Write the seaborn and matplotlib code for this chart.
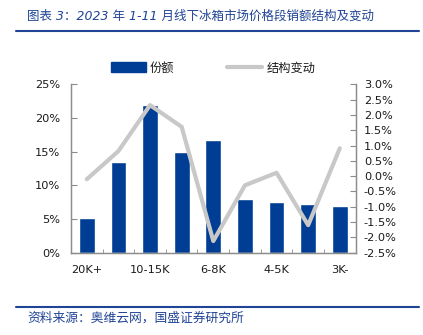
import numpy as np
import pandas as pd
import matplotlib
matplotlib.use("Agg")
import matplotlib.pyplot as plt
from matplotlib.patches import Patch
from matplotlib.lines import Line2D
import seaborn as sns

# Price bands (high to low), sales share and change in share
categories = ["20K+", "15-20K", "10-15K", "8-10K", "6-8K", "5-6K", "4-5K", "3-4K", "3K-"]
share = [5.1, 13.4, 21.9, 15.0, 16.8, 7.9, 7.5, 7.2, 7.0]
change = [-0.10, 0.82, 2.32, 1.61, -2.12, -0.30, 0.11, -1.60, 0.91]
left_ticks = [0, 5, 10, 15, 20, 25]
right_ticks = [-2.5, -2.0, -1.5, -1.0, -0.5, 0.0, 0.5, 1.0, 1.5, 2.0, 2.5, 3.0]

sns.set_style("white")
plt.rcParams["font.family"] = ["DejaVu Sans", "Noto Sans CJK SC"]

BLUE = "#003d94"
GREY = "#c8c8c8"
TEXT = "#1a1a1a"
SPINE = "#8c8c8c"
NAVY = "#1f4395"
TICK_FS = 8.2

df = pd.DataFrame({"band": categories, "share": share, "change": change,
                   "pos": np.arange(len(categories))})

fig = plt.figure(figsize=(4.23, 3.35), dpi=100)
ax = fig.add_axes([71 / 423, 1 - 252.7 / 335, 284.6 / 423, 168.4 / 335])

sns.barplot(data=df, x="band", y="share", color=BLUE, width=0.5,
            saturation=1, ax=ax, zorder=2)
ax.set_xlim(-0.5, len(categories) - 0.5)
ax.set_ylim(0, 25)
ax.set_yticks(left_ticks)
ax.set_yticklabels([f"{t}%" for t in left_ticks])
ax.set_xticks(np.arange(len(categories)))
ax.set_xticklabels([c if i % 2 == 0 else "" for i, c in enumerate(categories)])
ax.set_xticks(np.arange(len(categories) + 1) - 0.5, minor=True)
ax.set_xlabel("")
ax.set_ylabel("")

ax2 = ax.twinx()
sns.lineplot(data=df, x="pos", y="change", color=GREY, linewidth=3,
             ax=ax2, zorder=3)
ax2.set_ylim(-2.5, 3.0)
ax2.set_yticks(right_ticks)
ax2.set_yticklabels([f"{t:.1f}%" for t in right_ticks])
ax2.set_xlim(-0.5, len(categories) - 0.5)
ax2.set_xlabel("")
ax2.set_ylabel("")

for a in (ax, ax2):
    for s in a.spines.values():
        s.set_color(SPINE)
        s.set_linewidth(0.9)
    a.spines["top"].set_visible(False)

ax.tick_params(axis="y", direction="in", length=4, color=SPINE, labelsize=TICK_FS,
               labelcolor=TEXT, pad=8, left=True)
ax.tick_params(axis="x", which="major", length=0, labelsize=TICK_FS,
               labelcolor=TEXT, pad=9)
ax.tick_params(axis="x", which="minor", direction="in", length=3, color=SPINE,
               bottom=True)
ax2.tick_params(axis="y", direction="in", length=4, color=SPINE, labelsize=TICK_FS,
                labelcolor=TEXT, pad=6, right=True)

handles = [Patch(facecolor=BLUE, edgecolor=BLUE),
           Line2D([0], [0], color=GREY, linewidth=3)]
fig.legend(handles, ["份额", "结构变动"], loc="center", ncol=2,
           bbox_to_anchor=(213 / 423, 1 - 68 / 335), frameon=False,
           prop={"family": ["Noto Sans CJK SC"], "size": 8.8},
           handlelength=2.9, handleheight=0.9, handletextpad=0.3,
           columnspacing=4.3, labelcolor=TEXT)

fig.text(27 / 423, 1 - 16 / 335, "图表 3：2023 年 1-11 月线下冰箱市场价格段销额结构及变动",
         color=NAVY, fontsize=9, style="italic", va="center", ha="left",
         family=["DejaVu Sans", "Noto Sans CJK SC"])
fig.add_artist(Line2D([16 / 423, 419 / 423], [1 - 31 / 335, 1 - 31 / 335],
                      color=NAVY, linewidth=1.5, transform=fig.transFigure))
fig.add_artist(Line2D([16 / 423, 419 / 423], [1 - 307 / 335, 1 - 307 / 335],
                      color=NAVY, linewidth=1.5, transform=fig.transFigure))
fig.text(27 / 423, 1 - 318 / 335, "资料来源：奥维云网，国盛证券研究所",
         color=NAVY, fontsize=9.2, style="italic", va="center", ha="left",
         family=["Noto Sans CJK SC", "DejaVu Sans"])

fig.savefig("out.png", dpi=100)
